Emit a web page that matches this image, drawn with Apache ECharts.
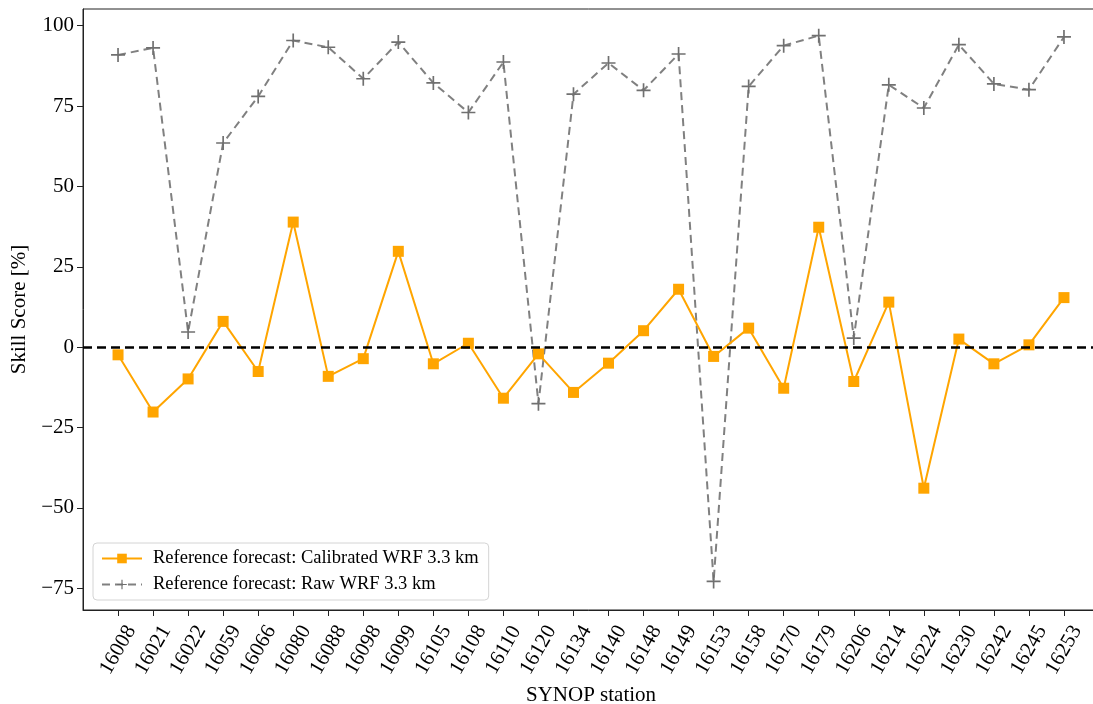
<!DOCTYPE html>
<html>
<head>
<meta charset="utf-8">
<script src="https://cdn.jsdelivr.net/npm/echarts@6/dist/echarts.min.js"></script>
<style>html,body{margin:0;padding:0;background:#fff}#c{width:1093px;height:704px}</style>
</head>
<body>
<div id="c"></div>
<script>
const stations = ['16008','16021','16022','16059','16066','16080','16088','16098','16099','16105','16108','16110','16120','16134','16140','16148','16149','16153','16158','16170','16179','16206','16214','16224','16230','16242','16245','16253'];
const calibrated = [-2.4,-20.2,-9.9,8.0,-7.6,38.9,-9.1,-3.6,29.8,-5.2,1.2,-15.9,-2.1,-14.1,-5.0,5.1,18.0,-2.9,5.9,-12.8,37.3,-10.7,14.0,-43.9,2.5,-5.2,0.7,15.4];
const raw = [90.9,93.1,4.7,63.5,78.0,95.4,93.3,83.5,94.9,82.2,73.0,88.7,-17.6,78.7,88.4,79.9,91.2,-72.9,81.1,93.8,96.9,2.8,81.6,74.4,94.1,81.9,80.1,96.5];
const yTicks = [-75,-50,-25,0,25,50,75,100];

const FONT = 'Liberation Serif';
const idx = stations.map((s,i)=>i);
const plus = 'path://M4.4,0 H5.6 V4.4 H10 V5.6 H5.6 V10 H4.4 V5.6 H0 V4.4 H4.4 Z';

const chart = echarts.init(document.getElementById('c'));
chart.setOption({
  animation:false,
  backgroundColor:'#fff',
  textStyle:{fontFamily:FONT},
  grid:{left:83, top:9, right:-6, bottom:94, outerBoundsMode:'none', containLabel:false,
    show:true, borderColor:'#222', borderWidth:1, backgroundColor:'transparent'},
  legend:{
    orient:'vertical', left:93, top:543,
    padding:[6,10,6,8], itemGap:7, itemWidth:40, itemHeight:12,
    backgroundColor:'rgba(255,255,255,0.8)', borderColor:'#d4d4d4', borderWidth:1, borderRadius:4,
    textStyle:{fontFamily:FONT, fontSize:18.5, color:'#000', padding:[0,0,0,6]},
    data:['Reference forecast: Calibrated WRF 3.3 km','Reference forecast: Raw WRF 3.3 km']
  },
  xAxis:{
    type:'value', min:-1, max:28,
    name:'SYNOP station', nameLocation:'middle', nameGap:72,
    nameTextStyle:{fontFamily:FONT, fontSize:21, color:'#000'},
    axisLine:{onZero:false, lineStyle:{color:'#222', width:1}},
    axisTick:{show:true, length:6, lineStyle:{color:'#222'}, customValues:idx},
    axisLabel:{fontFamily:FONT, fontSize:21, color:'#000', rotate:60, align:'center', verticalAlign:'middle', margin:40,
      customValues:idx, formatter:v=>stations[Math.round(v)] ?? ''},
    splitLine:{show:false}
  },
  yAxis:{
    type:'value', min:-81.8, max:105.2,
    name:'Skill Score [%]', nameLocation:'middle', nameGap:51,
    nameTextStyle:{fontFamily:FONT, fontSize:21, color:'#000'},
    axisLine:{show:true, onZero:false, lineStyle:{color:'#222', width:1}},
    axisTick:{show:true, length:6, lineStyle:{color:'#222'}, customValues:yTicks},
    axisLabel:{fontFamily:FONT, fontSize:21, color:'#000', margin:9, customValues:yTicks,
      formatter:v=>String(v).replace('-','\u2212')},
    splitLine:{show:false}
  },
  series:[
    {
      name:'Reference forecast: Calibrated WRF 3.3 km', type:'line',
      data:calibrated.map((v,i)=>[i,v]),
      symbol:'rect', symbolSize:11, showAllSymbol:true,
      lineStyle:{color:'#FFA500', width:2},
      itemStyle:{color:'#FFA500'},
      z:3,
      markLine:{silent:true, symbol:'none', label:{show:false},
        lineStyle:{color:'#000', type:[9,5], width:2.5},
        data:[{yAxis:0}]}
    },
    {
      name:'Reference forecast: Raw WRF 3.3 km', type:'line',
      data:raw.map((v,i)=>[i,v]),
      symbol:plus, symbolSize:14, showAllSymbol:true,
      lineStyle:{color:'#808080', width:2, type:[8,5]},
      itemStyle:{color:'#707070'},
      z:2
    }
  ]
});
</script>
</body>
</html>
